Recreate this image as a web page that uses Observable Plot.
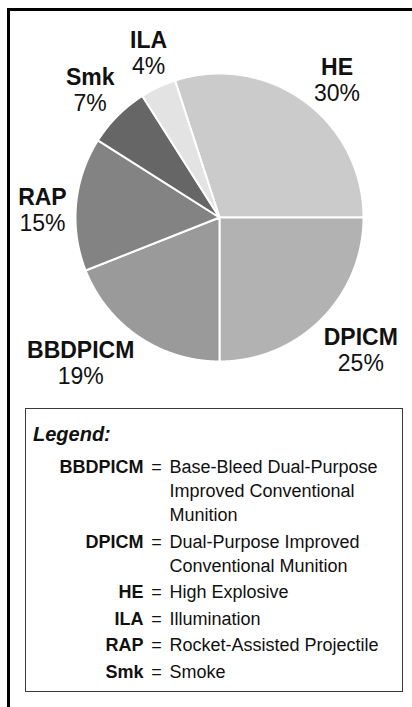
<!DOCTYPE html>
<html>
<head>
<meta charset="utf-8">
<script src="https://cdn.jsdelivr.net/npm/d3@7"></script>
<script src="https://cdn.jsdelivr.net/npm/@observablehq/plot@0.6"></script>
<style>
  html, body { margin: 0; padding: 0; background: #fff; }
  body { width: 412px; height: 707px; overflow: hidden; position: relative;
         font-family: "Liberation Sans", Arial, sans-serif; color: #111; }
  .fline { position: absolute; background: #000; }
  #chart { position: absolute; left: 0; top: 0; }
  #legend { position: absolute; left: 25px; top: 408px; width: 378px; height: 284px;
            border: 1.5px solid #3a3a3a; box-sizing: border-box; }
  #legend .title { position: absolute; left: 7px; top: 13px; font-size: 20px; line-height: 24px;
                   font-weight: bold; font-style: italic; }
  #legend .rows { position: absolute; left: 0; top: 46px; }
  #legend .row { display: flex; font-size: 18px; line-height: 24px; margin-bottom: 2.6px; }
  #legend .term { width: 117.5px; text-align: right; font-weight: bold; }
  #legend .eq { width: 26px; text-align: center; }
  #legend .def { white-space: nowrap; }
</style>
</head>
<body>
<div id="chart"></div>
<div class="fline" style="left:7px;top:8px;width:405px;height:2.5px;"></div>
<div class="fline" style="left:7px;top:8px;width:2.5px;height:699px;"></div>
<div id="legend"><div class="title">Legend:</div><div class="rows"></div></div>
<script>
// ---- data ----
const categories = ["HE", "DPICM", "BBDPICM", "RAP", "Smk", "ILA"];
const percents = [30, 25, 19, 15, 7, 4];
const legendTerms = ["BBDPICM", "DPICM", "HE", "ILA", "RAP", "Smk"];
const legendDefinitions = [
  ["Base-Bleed Dual-Purpose", "Improved Conventional", "Munition"],
  ["Dual-Purpose Improved", "Conventional Munition"],
  ["High Explosive"],
  ["Illumination"],
  ["Rocket-Assisted Projectile"],
  ["Smoke"]
];

// ---- styles / layout ----
const sliceColors = ["#cbcbcb", "#b2b2b2", "#9a9a9a", "#838383", "#666666", "#e3e3e3"];
const labelRadius = 1.27;
const labelNudge = [[10, 11], [12, 4], [-36, -5], [5, 10], [0, 2], [7, 2]]; // pixel nudges
const R = 144;

const rows = categories.map((c, i) => ({name: c, value: percents[i], color: sliceColors[i]}));
const total = d3.sum(percents);
// HE ends at 3 o'clock
const start = Math.PI / 2 - 2 * Math.PI * percents[0] / total;
const arcs = d3.pie().sort(null).value(d => d.value).startAngle(start).endAngle(start + 2 * Math.PI)(rows);

// polygon outline for each slice, sampled along its arc
const slicePoints = [];
arcs.forEach(a => {
  const n = Math.max(2, Math.ceil((a.endAngle - a.startAngle) / (Math.PI / 720)));
  slicePoints.push({name: a.data.name, color: a.data.color, x: 0, y: 0});
  for (let k = 0; k <= n; k++) {
    const t = a.startAngle + (a.endAngle - a.startAngle) * k / n;
    slicePoints.push({name: a.data.name, color: a.data.color, x: Math.sin(t), y: Math.cos(t)});
  }
  slicePoints.push({name: a.data.name, color: a.data.color, x: 0, y: 0});
});

const labels = arcs.map((a, i) => {
  const m = (a.startAngle + a.endAngle) / 2;
  return {
    name: a.data.name, value: a.data.value,
    x: labelRadius * Math.sin(m) + labelNudge[i][0] / R,
    y: labelRadius * Math.cos(m) - labelNudge[i][1] / R
  };
});

const chart = Plot.plot({
  width: 412,
  height: 400,
  margin: 0,
  style: {background: "transparent", fontFamily: "'Liberation Sans', Arial, sans-serif", color: "#111"},
  x: {domain: [-1, 1], range: [219 - R, 219 + R], axis: null},
  y: {domain: [-1, 1], range: [217 + R, 217 - R], axis: null},
  color: {type: "identity"},
  marks: [
    Plot.line(slicePoints, {x: "x", y: "y", z: "name", fill: "color", stroke: "#fff", strokeWidth: 2, strokeLinejoin: "round", curve: "linear"}),
    Plot.text(labels, {x: "x", y: "y", text: d => d.name, fontSize: 23, fontWeight: "bold", dy: -13, fill: "#111"}),
    Plot.text(labels, {x: "x", y: "y", text: d => d.value + "%", fontSize: 23, dy: 13, fill: "#111"})
  ]
});
document.getElementById("chart").appendChild(chart);

// legend
const rowsEl = document.querySelector("#legend .rows");
legendTerms.forEach((t, i) => {
  const row = document.createElement("div");
  row.className = "row";
  const term = document.createElement("div"); term.className = "term"; term.textContent = t;
  const eq = document.createElement("div"); eq.className = "eq"; eq.textContent = "=";
  const def = document.createElement("div"); def.className = "def";
  legendDefinitions[i].forEach(line => { const l = document.createElement("div"); l.textContent = line; def.appendChild(l); });
  row.append(term, eq, def);
  rowsEl.appendChild(row);
});
</script>
</body>
</html>
